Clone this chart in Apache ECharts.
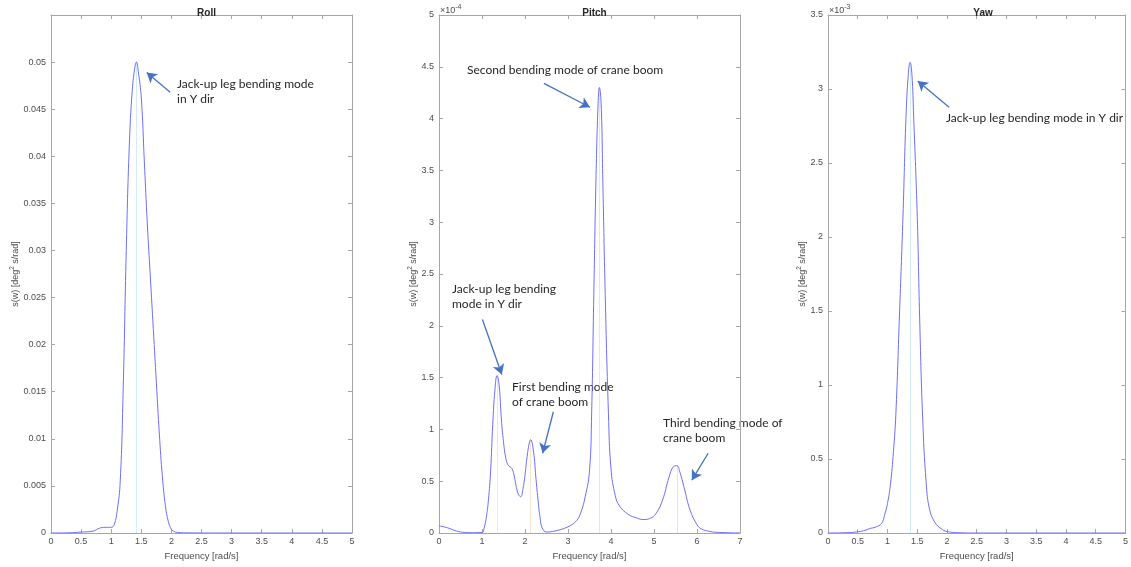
<!DOCTYPE html>
<html><head><meta charset="utf-8">
<script src="https://cdn.jsdelivr.net/npm/echarts@6/dist/echarts.min.js"></script>
<style>html,body{margin:0;padding:0;background:#fff}#c{width:1131px;height:567px}</style>
</head><body><div id="c"></div>
<script>
// ---- data ----
const rollFreq = [0,0.3,0.5,0.7,0.8,0.9,1.0,1.05,1.1,1.15,1.2,1.25,1.3,1.35,1.4,1.42,1.45,1.5,1.55,1.6,1.65,1.7,1.75,1.8,1.85,1.9,1.95,2.0,2.05,2.1,2.3,3,4,5];
const rollS    = [0,0.00002,0.0001,0.0002,0.0005,0.0006,0.0006,0.0009,0.0024,0.0055,0.0155,0.030,0.041,0.047,0.0497,0.0500,0.0490,0.0462,0.0395,0.0328,0.0272,0.0216,0.016,0.0105,0.006,0.0029,0.0012,0.0004,0.00015,0.00006,0.00001,0,0,0];

const pitchFreq = [0,0.2,0.4,0.6,0.8,1.0,1.05,1.1,1.15,1.2,1.25,1.3,1.35,1.4,1.45,1.5,1.55,1.6,1.65,1.7,1.75,1.8,1.85,1.9,1.95,2.0,2.05,2.1,2.13,2.2,2.25,2.3,2.35,2.4,2.5,2.7,3.0,3.2,3.3,3.4,3.5,3.55,3.6,3.65,3.7,3.73,3.77,3.81,3.86,3.94,4.0,4.1,4.2,4.4,4.6,4.75,4.9,5.05,5.2,5.35,5.45,5.53,5.6,5.7,5.84,6.0,6.1,6.3,6.5,7.0];
const pitchS    = [0.07,0.05,0.02,0.005,0.003,0.005,0.05,0.15,0.32,0.6,1.05,1.38,1.52,1.42,1.1,0.88,0.73,0.66,0.64,0.62,0.55,0.44,0.37,0.35,0.42,0.56,0.74,0.87,0.90,0.78,0.55,0.33,0.15,0.05,0.01,0.02,0.06,0.12,0.2,0.35,0.6,1.16,2.3,3.4,4.15,4.3,4.15,3.4,2.4,1.16,0.62,0.36,0.26,0.18,0.145,0.13,0.14,0.19,0.32,0.54,0.64,0.65,0.59,0.44,0.22,0.08,0.04,0.015,0.006,0.0]; // x1e-4

const yawFreq = [0,0.3,0.5,0.64,0.7,0.8,0.9,0.95,1.0,1.05,1.1,1.14,1.2,1.26,1.31,1.35,1.38,1.41,1.44,1.5,1.54,1.59,1.65,1.71,1.8,1.9,2.0,2.2,2.5,5];
const yawS    = [0,0.002,0.008,0.02,0.03,0.04,0.065,0.12,0.2,0.33,0.55,0.8,1.46,2.14,2.8,3.1,3.18,3.1,2.81,2.14,1.46,0.79,0.34,0.155,0.07,0.03,0.01,0.002,0,0]; // x1e-3

const titles = ['Roll','Pitch','Yaw'];
const xMax = [5, 7, 5];
const xStep = [0.5, 1, 0.5];
const yMax = [0.055, 5, 3.5];
const yStep = [0.005, 0.5, 0.5];
const peakRoll = [[1.42, 0.050]];
const peakPitch = [[1.35, 1.52],[2.13, 0.90],[3.73, 4.30],[5.53, 0.65]];
const peakYaw = [[1.38, 3.18]];

// annotation arrows (data coordinates: tail -> head)
const arrowsRoll = [[[1.98,0.0468],[1.59,0.0489]]];
const arrowsPitch = [[[2.44,4.34],[3.51,4.11]],[[1.01,2.06],[1.46,1.53]],[[2.66,1.17],[2.41,0.77]],[[6.26,0.77],[5.88,0.51]]];
const arrowsYaw = [[[2.035,2.876],[1.508,3.054]]];

const chart = echarts.init(document.getElementById('c'));
const grids = [
  {left:51, width:301, top:15, height:518},
  {left:439, width:301, top:15, height:518},
  {left:828, width:300, top:15, height:518}
];
const axisCol = '#a6a6a6';
const labCol = '#4d4d4d';
const FONT = '"Liberation Sans", Arial, sans-serif';
const xAxes = [], yAxes = [];
const nameGaps = [25, 16, 15];
grids.forEach((g,i)=>{
  const common = {type:'value', min:0, max:xMax[i], interval:xStep[i], gridIndex:i,
    axisLine:{show:true, onZero:false, lineStyle:{color:axisCol, width:1}},
    axisTick:{show:true, inside:true, length:4, lineStyle:{color:axisCol}},
    splitLine:{show:false}};
  xAxes.push(Object.assign({}, common, {position:'bottom',
    name:'Frequency [rad/s]', nameLocation:'middle', nameGap:18,
    nameTextStyle:{color:labCol, fontSize:9.5, fontFamily:FONT},
    axisLabel:{color:labCol, fontSize:9, fontFamily:FONT, margin:4,
      formatter: v => String(+v.toFixed(2))}}));
  xAxes.push(Object.assign({}, common, {position:'top', axisLabel:{show:false}}));
  const yc = {type:'value', min:0, max:yMax[i], interval:yStep[i], gridIndex:i,
    axisLine:{show:true, onZero:false, lineStyle:{color:axisCol, width:1}},
    axisTick:{show:true, inside:true, length:4, lineStyle:{color:axisCol}},
    splitLine:{show:false}};
  yAxes.push(Object.assign({}, yc, {position:'left',
    name:'s(w) [deg{sup|2} s/rad]', nameLocation:'middle', nameGap:nameGaps[i], nameRotate:90,
    nameTextStyle:{color:labCol, fontSize:9, fontFamily:FONT,
      rich:{sup:{fontSize:6.5, color:labCol, fontFamily:FONT, padding:[0,0,6,0]}}},
    axisLabel:{color:labCol, fontSize:9, fontFamily:FONT, margin:5,
      formatter: v => (i===0 && v>0.0505) ? '' : String(+v.toFixed(3))}}));
  yAxes.push(Object.assign({}, yc, {position:'right', axisLabel:{show:false}}));
});

function mkSeries(i, fx, fy, peaks, arrows, peakCols){
  const data = fx.map((x,k)=>[x, fy[k]]);
  const ml = [];
  peaks.forEach((p,k)=>ml.push([{coord:[p[0],0], lineStyle:{color:peakCols[k], width:1, type:'solid', opacity:0.45}, symbol:'none'},{coord:[p[0],p[1]], symbol:'none'}]));
  arrows.forEach(a=>ml.push([{coord:a[0], lineStyle:{color:'#4472c4', width:1.3, type:'solid'}, symbol:'none'},{coord:a[1], symbol:'arrow'}]));
  return {type:'line', xAxisIndex:2*i, yAxisIndex:2*i, data, showSymbol:false, smooth:0.45,
    lineStyle:{color:'#6e6efa', width:1}, z:3, silent:true,
    markLine:{silent:true, symbol:['none','arrow'], symbolSize:[9,10], label:{show:false}, animation:false, data:ml, z:2}};
}
const series = [
  mkSeries(0, rollFreq, rollS, peakRoll, arrowsRoll, ['#9fd2f0']),
  mkSeries(1, pitchFreq, pitchS, peakPitch, arrowsPitch, ['#f2c49b','#f2c49b','#9fd2f0','#f0b8b8']),
  mkSeries(2, yawFreq, yawS, peakYaw, arrowsYaw, ['#9fd2f0'])
];

const AF = 'Lato, "Open Sans", sans-serif';
function note(x,y,t){ return {type:'text', left:x, top:y, style:{text:t, fill:'#262626', font:'12px '+AF, lineHeight:15}}; }
const graphic = [
  note(177,77,'Jack-up leg bending mode\nin Y dir'),
  note(467,63,'Second bending mode of crane boom'),
  note(452,282,'Jack-up leg bending\nmode in Y dir'),
  note(512,380,'First bending mode\nof crane boom'),
  note(663,416,'Third bending mode of\ncrane boom'),
  note(946,111,'Jack-up leg bending mode in Y dir'),
  {type:'text', left:440, top:4, style:{text:'×10{s|-4}', rich:{s:{fontSize:7, fill:labCol, padding:[0,0,6,0]}}, fill:labCol, font:'9px '+FONT}},
  {type:'text', left:829, top:4, style:{text:'×10{s|-3}', rich:{s:{fontSize:7, fill:labCol, padding:[0,0,6,0]}}, fill:labCol, font:'9px '+FONT}}
];

chart.setOption({
  animation:false,
  backgroundColor:'#ffffff',
  title: grids.map((g,i)=>({text:titles[i], left:g.left+g.width/2, top:3, textAlign:'center',
    textStyle:{fontSize:10, fontWeight:'bold', color:'#262626', fontFamily:FONT}})),
  grid: grids,
  xAxis: xAxes, yAxis: yAxes,
  series, graphic
});
</script></body></html>
